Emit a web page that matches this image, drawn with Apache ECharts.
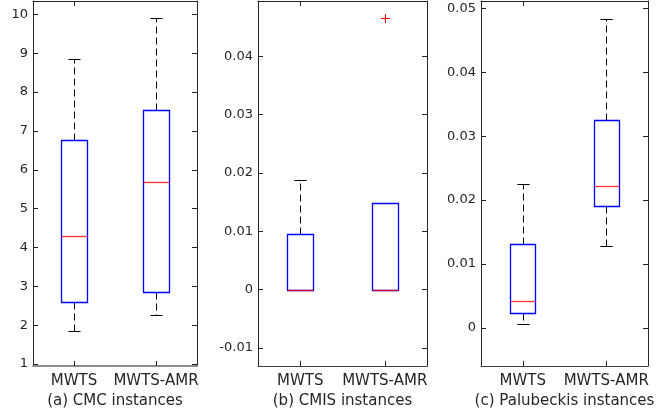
<!DOCTYPE html>
<html><head><meta charset="utf-8">
<script src="https://cdn.jsdelivr.net/npm/echarts@6/dist/echarts.min.js"></script>
<style>html,body{margin:0;padding:0;background:#fff}#c{width:659px;height:414px}</style>
</head><body><div id="c"></div>
<script>
// ---- data ----
const categories = ['MWTS', 'MWTS-AMR'];
const panelTitles = ['(a) CMC instances', '(b) CMIS instances', '(c) Palubeckis instances'];
// each: [lower whisker, Q1, median, Q3, upper whisker]
const cmcMWTS  = [1.86, 2.59, 4.29, 6.76, 8.84];
const cmcAMR   = [2.26, 2.85, 5.68, 7.54, 9.90];
const cmisMWTS = [0, 0, 0, 0.0095, 0.0187];
const cmisAMR  = [0, 0, 0, 0.0149, 0.0149];
const paluMWTS = [0.0007, 0.0023, 0.0042, 0.0132, 0.0225];
const paluAMR  = [0.0128, 0.0190, 0.0222, 0.0326, 0.0483];
// outliers: [category index, value]
const cmcOutliers  = [];
const cmisOutliers = [[1, 0.0465]];
const paluOutliers = [];
// tick labels
const cmcTicks  = [1, 2, 3, 4, 5, 6, 7, 8, 9, 10];
const cmisTicks = [-0.01, 0, 0.01, 0.02, 0.03, 0.04];
const paluTicks = [0, 0.01, 0.02, 0.03, 0.04, 0.05];
// axis ranges
const cmcRange  = [0.95, 10.345];
const cmisRange = [-0.01311, 0.04947];
const paluRange = [-0.00594, 0.05113];

// ---- layout ----
const panels = [
  {title: panelTitles[0], boxes: [cmcMWTS, cmcAMR], outliers: cmcOutliers, ticks: cmcTicks, range: cmcRange, left: 33, width: 164, bottomColor: '#8c8c8c', bottomWidth: 2},
  {title: panelTitles[1], boxes: [cmisMWTS, cmisAMR], outliers: cmisOutliers, ticks: cmisTicks, range: cmisRange, left: 258, width: 169, bottomColor: '#404040', bottomWidth: 1},
  {title: panelTitles[2], boxes: [paluMWTS, paluAMR], outliers: paluOutliers, ticks: paluTicks, range: paluRange, left: 481, width: 167, bottomColor: '#404040', bottomWidth: 1}
];
const FONT = 'DejaVu Sans';
const AX = '#262626';

function fmt(v) { return String(+(+v).toFixed(4)); }
function px(v) { return Math.round(v) + 0.5; }

function boxRender(params, api) {
  const cat = api.value(0);
  const lo = api.coord([cat, api.value(1)]);
  const q1 = api.coord([cat, api.value(2)]);
  const md = api.coord([cat, api.value(3)]);
  const q3 = api.coord([cat, api.value(4)]);
  const hi = api.coord([cat, api.value(5)]);
  const band = api.size([1, 0])[0];
  const bw = band * 0.305;
  const cw = bw * 0.48;
  const x = px(q1[0]);
  const xl = px(q1[0] - bw / 2), xr = px(q1[0] + bw / 2);
  const yHi = px(hi[1]), yQ3 = px(q3[1]), yMd = px(md[1]), yQ1 = px(q1[1]), yLo = px(lo[1]);
  const dash = {stroke: '#000', lineWidth: 1, lineDash: [7, 4]};
  const solid = {stroke: '#000', lineWidth: 1};
  const ch = [];
  if (yHi < yQ3 - 0.5) ch.push({type: 'line', shape: {x1: x, y1: yQ3, x2: x, y2: yHi}, style: dash});
  if (yLo > yQ1 + 0.5) ch.push({type: 'line', shape: {x1: x, y1: yQ1, x2: x, y2: yLo}, style: dash});
  ch.push({type: 'line', shape: {x1: x - cw / 2, y1: yHi, x2: x + cw / 2, y2: yHi}, style: solid});
  ch.push({type: 'line', shape: {x1: x - cw / 2, y1: yLo, x2: x + cw / 2, y2: yLo}, style: solid});
  ch.push({type: 'rect', shape: {x: xl, y: yQ3, width: xr - xl, height: yQ1 - yQ3}, style: {fill: 'none', stroke: '#0000ff', lineWidth: 1.3}});
  ch.push({type: 'line', shape: {x1: xl, y1: yMd, x2: xr, y2: yMd}, style: {stroke: '#ff0000', lineWidth: 1.3, opacity: 0.8}});
  return {type: 'group', children: ch};
}

function outlierRender(params, api) {
  const p = api.coord([api.value(0), api.value(1)]);
  const s = 4.5;
  const cx = px(p[0]), cy = px(p[1]);
  const st = {stroke: '#ff0000', lineWidth: 1};
  return {type: 'group', children: [
    {type: 'line', shape: {x1: cx - s, y1: cy, x2: cx + s, y2: cy}, style: st},
    {type: 'line', shape: {x1: cx, y1: cy - s, x2: cx, y2: cy + s}, style: st}
  ]};
}

const grid = [], xAxis = [], yAxis = [], series = [];
panels.forEach((P, i) => {
  grid.push({left: P.left, top: 1, width: P.width, height: 368, show: false});
  xAxis.push({
    gridIndex: i, type: 'category', data: categories, position: 'bottom',
    axisLine: {show: true, onZero: false, lineStyle: {color: P.bottomColor, width: P.bottomWidth}},
    axisTick: {show: true, inside: true, alignWithLabel: true, length: 5, lineStyle: {color: AX}},
    axisLabel: {fontFamily: FONT, fontSize: 15, color: AX, margin: 8, interval: 0, hideOverlap: false},
    name: P.title, nameLocation: 'middle', nameGap: 28,
    nameTextStyle: {fontFamily: FONT, fontSize: 15, color: AX},
    splitLine: {show: false}
  });
  xAxis.push({
    gridIndex: i, type: 'category', data: categories, position: 'top',
    axisLine: {show: true, onZero: false, lineStyle: {color: AX}},
    axisTick: {show: true, inside: true, alignWithLabel: true, length: 5, lineStyle: {color: AX}},
    axisLabel: {show: false}, splitLine: {show: false}
  });
  yAxis.push({
    gridIndex: i, type: 'value', position: 'left', min: P.range[0], max: P.range[1],
    axisLine: {show: true, onZero: false, lineStyle: {color: AX}},
    axisTick: {show: true, inside: true, length: 5, customValues: P.ticks, lineStyle: {color: AX}},
    axisLabel: {show: true, customValues: P.ticks, formatter: fmt, fontFamily: FONT, fontSize: 13, color: AX, margin: 5},
    splitLine: {show: false}
  });
  yAxis.push({
    gridIndex: i, type: 'value', position: 'right', min: P.range[0], max: P.range[1],
    axisLine: {show: true, onZero: false, lineStyle: {color: AX}},
    axisTick: {show: true, inside: true, length: 5, customValues: P.ticks, lineStyle: {color: AX}},
    axisLabel: {show: false}, splitLine: {show: false}
  });
  series.push({
    type: 'custom', xAxisIndex: 2 * i, yAxisIndex: 2 * i, renderItem: boxRender,
    encode: {x: 0, y: [1, 2, 3, 4, 5]}, silent: true,
    data: P.boxes.map((b, k) => [k].concat(b))
  });
  if (P.outliers.length) {
    series.push({
      type: 'custom', xAxisIndex: 2 * i, yAxisIndex: 2 * i, renderItem: outlierRender,
      encode: {x: 0, y: 1}, silent: true, data: P.outliers
    });
  }
});

const chart = echarts.init(document.getElementById('c'), null, {renderer: 'canvas'});
chart.setOption({animation: false, backgroundColor: '#fff', grid, xAxis, yAxis, series});
</script></body></html>
